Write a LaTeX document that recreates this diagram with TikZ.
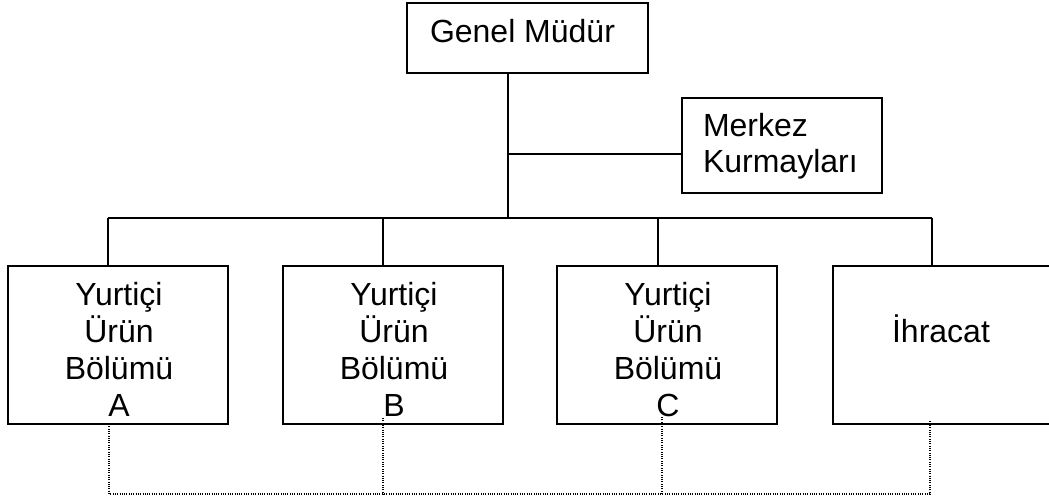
\documentclass[tikz,border=0pt]{standalone}
\usepackage{fontspec}
\setmainfont{Liberation Sans}
\usetikzlibrary{calc}
\begin{document}
\begin{tikzpicture}[x=1pt,y=-1pt,
  unitbox/.style={draw, line width=2pt, rectangle, inner sep=0pt, outer sep=0pt, anchor=north west},
  label/.style={font=\fontsize{32}{37}\selectfont, inner sep=0pt, outer sep=0pt},
  solidlink/.style={line width=2pt},
  dotlink/.style={line width=1.5pt, dash pattern=on 1pt off 1.3pt}]
\useasboundingbox (0,0) rectangle (1049,502);

% boxes
\node[unitbox, minimum width=241pt, minimum height=70pt] (gm) at (407,3) {};
\node[unitbox, minimum width=200pt, minimum height=95pt] (mk) at (682,98) {};
\node[unitbox, minimum width=220pt, minimum height=158pt] (bA) at (8,266) {};
\node[unitbox, minimum width=220pt, minimum height=158pt] (bB) at (283,266) {};
\node[unitbox, minimum width=220pt, minimum height=158pt] (bC) at (557,266) {};
\node[unitbox, minimum width=220pt, minimum height=158pt] (bD) at (833,266) {};

% texts (multi-line labels are placed by the baseline of their last line)
\node[label, anchor=base west] (tgm) at (430,43) {Genel Müdür};
\node[label, anchor=base west] (tmk1) at (703,137) {Merkez};
\node[label, anchor=base west] (tmk2) at (703,173) {Kurmayları};
\node[label, anchor=base, align=center] (tA) at (119,416) {Yurtiçi\\Ürün\\Bölümü\\A};
\node[label, anchor=base, align=center] (tB) at (394,416) {Yurtiçi\\Ürün\\Bölümü\\B};
\node[label, anchor=base, align=center] (tC) at (668,416) {Yurtiçi\\Ürün\\Bölümü\\C};
\node[label, anchor=base] (tD) at (941,343) {İhracat};

% solid hierarchy lines
\coordinate (bus) at (508,218);
\coordinate (tee) at (508,154);
\coordinate (d1) at (108,218);
\coordinate (d2) at (383,218);
\coordinate (d3) at (658,218);
\coordinate (d4) at (932,218);
\draw[solidlink] (gm.south -| bus) -- (bus);
\draw[solidlink] (tee) -- (tee -| mk.west);
\draw[solidlink] (d1) -- (d4);
\draw[solidlink] (d1) -- (d1 |- bA.north);
\draw[solidlink] (d2) -- (d2 |- bB.north);
\draw[solidlink] (d3) -- (d3 |- bC.north);
\draw[solidlink] (d4) -- (d4 |- bD.north);

% dotted link between the units
\coordinate (e1) at (109,494);
\coordinate (e2) at (383,494);
\coordinate (e3) at (662,494);
\coordinate (e4) at (930,494);
\draw[dotlink] (e1 |- bA.south) -- (e1) -- (e4) -- ($(e4 |- bD.south)+(0,-3)$);
\draw[dotlink] ($(e2 |- bB.south)+(0,-6)$) -- (e2);
\draw[dotlink] ($(e3 |- bC.south)+(0,-7)$) -- (e3);
\end{tikzpicture}
\end{document}
